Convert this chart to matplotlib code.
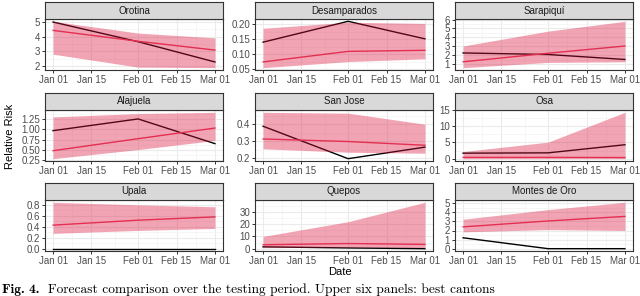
import datetime as dt
import matplotlib
matplotlib.use("Agg")
import matplotlib.pyplot as plt
import matplotlib.dates as mdates
from matplotlib.ticker import MultipleLocator, FormatStrFormatter, FixedLocator, NullFormatter

# ---------------- data ----------------
dates = [dt.date(2021, 1, 1), dt.date(2021, 2, 1), dt.date(2021, 3, 1)]
x_ticks = [dt.date(2021, 1, 1), dt.date(2021, 1, 15), dt.date(2021, 2, 1),
           dt.date(2021, 2, 15), dt.date(2021, 3, 1)]
cantons = ["Orotina", "Desamparados", "Sarapiquí", "Alajuela", "San Jose", "Osa",
           "Upala", "Quepos", "Montes de Oro"]

observed = [
    [5.00, 3.66, 2.28],
    [0.140, 0.209, 0.151],
    [2.25, 2.08, 1.52],
    [0.967, 1.25, 0.654],
    [0.388, 0.197, 0.265],
    [1.7, 1.8, 4.3],
    [0.0, 0.0, 0.0],
    [1.5, 0.6, 0.0],
    [1.2, 0.0, 0.0],
]
forecast = [
    [4.43, 3.69, 3.09],
    [0.0746, 0.1095, 0.113],
    [1.26, 2.22, 3.03],
    [0.483, 0.773, 1.03],
    [0.313, 0.298, 0.276],
    [0.4, 0.4, 0.35],
    [0.43, 0.52, 0.58],
    [3.2, 4.2, 3.5],
    [2.4, 3.05, 3.55],
]
lower = [
    [2.81, 1.93, 1.89],
    [0.0555, 0.0757, 0.0848],
    [0.60, 1.19, 1.26],
    [0.29, 0.51, 0.73],
    [0.255, 0.235, 0.229],
    [0.0, 0.0, 0.0],
    [0.28, 0.333, 0.37],
    [0.8, 1.2, 0.9],
    [1.85, 2.1, 2.0],
]
upper = [
    [5.05, 4.25, 3.92],
    [0.186, 0.206, 0.202],
    [3.03, 4.70, 5.80],
    [1.30, 1.38, 1.41],
    [0.470, 0.465, 0.400],
    [2.2, 5.1, 14.3],
    [0.846, 0.80, 0.765],
    [10.0, 22.0, 37.8],
    [3.24, 4.3, 5.1],
]

# ---------------- styling per panel ----------------
y_steps = [1, 0.05, 1, 0.25, 0.1, 5, 0.2, 10, 1]
y_fmts = ["%d", "%.2f", "%d", "%.2f", "%.1f", "%d", "%.1f", "%d", "%d"]

W, H = 640, 296
fig = plt.figure(figsize=(W / 100, H / 100), dpi=100)
fig.patch.set_facecolor("white")

FONT = ["Liberation Sans", "DejaVu Sans"]
col_left = [45, 255, 455]
row_top = [19, 110, 200]
pw, ph, sh = 178, 51, 17

ribbon_col = "#DC143C"
line_col = "#E8405E"

xnum = mdates.date2num(dates)
xt = mdates.date2num(x_ticks)
xminor = [(xt[i] + xt[i + 1]) / 2 for i in range(len(xt) - 1)]

for i, name in enumerate(cantons):
    r, c = divmod(i, 3)
    left = col_left[c] / W
    bottom = 1 - (row_top[r] + ph) / H
    ax = fig.add_axes([left, bottom, pw / W, ph / H])
    ax.set_facecolor("white")
    ax.plot(xnum, observed[i], color="black", lw=1.0, zorder=3)
    ax.plot(xnum, forecast[i], color=line_col, lw=1.0, zorder=3)
    ax.fill_between(xnum, lower[i], upper[i], color=ribbon_col, alpha=0.38,
                    lw=0, zorder=4)
    ax.margins(x=0.05, y=0.05)
    ax.autoscale_view()

    ax.xaxis.set_major_locator(FixedLocator(xt))
    ax.xaxis.set_minor_locator(FixedLocator(xminor))
    ax.xaxis.set_major_formatter(mdates.DateFormatter("%b %d"))
    ax.yaxis.set_major_locator(MultipleLocator(y_steps[i]))
    ax.yaxis.set_minor_locator(MultipleLocator(y_steps[i] / 2))
    ax.yaxis.set_major_formatter(FormatStrFormatter(y_fmts[i]))
    ax.yaxis.set_minor_formatter(NullFormatter())

    ax.grid(which="major", color="#EBEBEB", lw=0.8, zorder=0)
    ax.grid(which="minor", color="#F2F2F2", lw=0.45, zorder=0)
    ax.set_axisbelow(True)
    for s in ax.spines.values():
        s.set_color("#333333")
        s.set_linewidth(0.8)
        s.set_zorder(6)
    ax.tick_params(which="major", length=2.3, width=0.7, color="#333333",
                   labelsize=7, labelcolor="#4D4D4D", pad=1.2)
    ax.tick_params(which="minor", length=0)
    for lab in ax.get_xticklabels() + ax.get_yticklabels():
        lab.set_fontfamily(FONT)

    # strip
    sax = fig.add_axes([left, 1 - row_top[r] / H, pw / W, sh / H])
    sax.set_facecolor("#D9D9D9")
    sax.set_xticks([])
    sax.set_yticks([])
    for s in sax.spines.values():
        s.set_color("#333333")
        s.set_linewidth(0.8)
    sax.text(0.5, 0.5, name, ha="center", va="center", fontsize=7,
             color="#1A1A1A", family=FONT, transform=sax.transAxes)

fig.text(10 / W, 1 - 136 / H, "Relative Risk", rotation=90, ha="center",
         va="center", fontsize=8, color="black", family=FONT)
fig.text(340 / W, 1 - 272 / H, "Date", ha="center", va="center", fontsize=8,
         color="black", family=FONT)

# caption
cap_base = 1 - 292.5 / H
t1 = fig.text(2 / W, cap_base, "Fig. 4.", ha="left", va="baseline", fontsize=9,
              family=["cmb10", "DejaVu Serif"])
t2 = fig.text(48 / W, cap_base,
              "Forecast comparison over the testing period. Upper six panels: best cantons",
              ha="left", va="baseline", fontsize=9, family=["cmr10", "DejaVu Serif"])
fig.canvas.draw()
rend = fig.canvas.get_renderer()
wid = t2.get_window_extent(rend).width
fs = 9 * 445 / wid
t2.set_fontsize(fs)
t1.set_fontsize(fs)

fig.savefig("out.png", dpi=100)
